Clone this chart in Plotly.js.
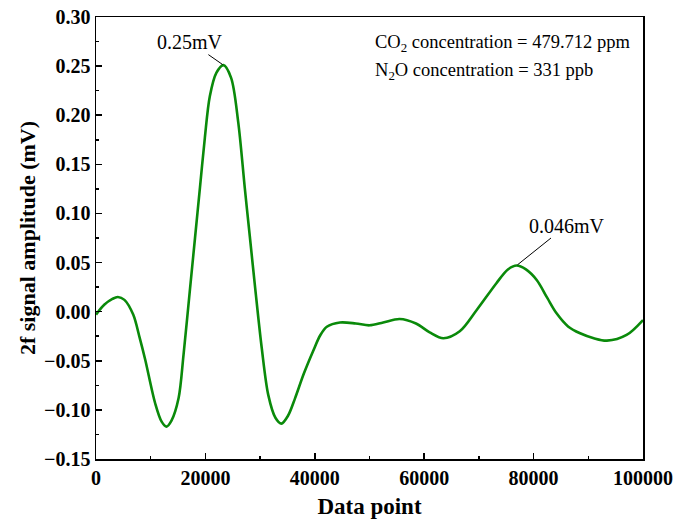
<!DOCTYPE html>
<html>
<head>
<meta charset="utf-8">
<script src="https://cdn.plot.ly/plotly-3.0.1.min.js"></script>
<style>html,body{margin:0;padding:0;background:#fff}#chart{width:676px;height:529px}</style>
</head>
<body>
<div id="chart"></div>
<script>
var dataPoint = [0, 1500, 3000, 4000, 5200, 6800, 8000, 9000, 10800, 12000, 12900, 13800, 15100, 16000, 17200, 18100, 19000, 19900, 20800, 22000, 23300, 24700, 26000, 27200, 28150, 29100, 30300, 31500, 32800, 33900, 35100, 36400, 38000, 39700, 41000, 42200, 44600, 47500, 50000, 52500, 55500, 58500, 61000, 63500, 66500, 69600, 73200, 75300, 76900, 78600, 80600, 82500, 84200, 86300, 88500, 91000, 93400, 97000, 100000];
var amplitude = [-0.003, 0.007, 0.013, 0.015, 0.012, -0.003, -0.027, -0.049, -0.093, -0.112, -0.117, -0.111, -0.088, -0.044, 0.024, 0.075, 0.126, 0.177, 0.219, 0.243, 0.251, 0.238, 0.193, 0.126, 0.075, 0.024, -0.037, -0.085, -0.108, -0.114, -0.106, -0.088, -0.063, -0.040, -0.024, -0.0153, -0.011, -0.012, -0.0139, -0.011, -0.0074, -0.012, -0.021, -0.027, -0.020, 0.0017, 0.029, 0.043, 0.047, 0.043, 0.032, 0.014, -0.0017, -0.015, -0.022, -0.027, -0.0295, -0.0237, -0.0085];
var peakLabels = ["0.25mV", "0.046mV"];
var peakX = [23300, 76900];
var peakY = [0.251, 0.047];
var infoLines = ["CO<sub>2</sub> concentration = 479.712 ppm", "N<sub>2</sub>O concentration = 331 ppb"];

var serif = "Liberation Serif, Times New Roman, serif";
var trace = {
  x: dataPoint, y: amplitude, type: "scatter", mode: "lines",
  line: {color: "#0a8a0a", width: 2.6, shape: "spline", smoothing: 0.9}
};
var layout = {
  width: 676, height: 529,
  margin: {l: 96, r: 33, t: 17, b: 70},
  paper_bgcolor: "#fff", plot_bgcolor: "#fff",
  showlegend: false,
  font: {family: serif, color: "#000"},
  xaxis: {
    range: [0, 100000], dtick: 20000, tick0: 0, tickformat: "d",
    showgrid: false, zeroline: false,
    showline: true, linecolor: "#000", linewidth: 1.5, mirror: true,
    ticks: "inside", ticklen: 6, tickwidth: 1.5, tickcolor: "#000",
    minor: {dtick: 10000, ticks: "inside", ticklen: 3, tickwidth: 1.5, tickcolor: "#000"},
    tickfont: {family: serif, size: 20, color: "#000", weight: "bold"},
    title: {text: "<b>Data point</b>", font: {family: serif, size: 23, color: "#000"}, standoff: 10}
  },
  yaxis: {
    range: [-0.15, 0.30], dtick: 0.05, tick0: 0, tickformat: ".2f",
    showgrid: false, zeroline: false,
    showline: true, linecolor: "#000", linewidth: 1.5, mirror: true,
    ticks: "inside", ticklen: 6, tickwidth: 1.5, tickcolor: "#000",
    minor: {dtick: 0.025, ticks: "inside", ticklen: 3, tickwidth: 1.5, tickcolor: "#000"},
    tickfont: {family: serif, size: 20, color: "#000", weight: "bold"},
    title: {text: "<b>2f signal amplitude (mV)</b>", font: {family: serif, size: 22, color: "#000"}, standoff: 2}
  },
  annotations: [
    {x: peakX[0], y: peakY[0], xref: "x", yref: "y", text: peakLabels[0], showarrow: true, arrowhead: 0, arrowwidth: 1, arrowcolor: "#000", ax: -33, ay: -23, standoff: 1, font: {family: serif, size: 20, color: "#000"}},
    {x: peakX[1], y: peakY[1], xref: "x", yref: "y", text: peakLabels[1], showarrow: true, arrowhead: 0, arrowwidth: 1, arrowcolor: "#000", ax: 50, ay: -40, standoff: 1, font: {family: serif, size: 20, color: "#000"}},
    {x: 0.506, y: 0.939, xref: "paper", yref: "paper", xanchor: "left", yanchor: "middle", text: infoLines[0], showarrow: false, font: {family: serif, size: 18.5, color: "#000"}},
    {x: 0.506, y: 0.876, xref: "paper", yref: "paper", xanchor: "left", yanchor: "middle", text: infoLines[1], showarrow: false, font: {family: serif, size: 18.5, color: "#000"}}
  ]
};
Plotly.newPlot("chart", [trace], layout, {displayModeBar: false, staticPlot: true});
</script>
</body>
</html>
